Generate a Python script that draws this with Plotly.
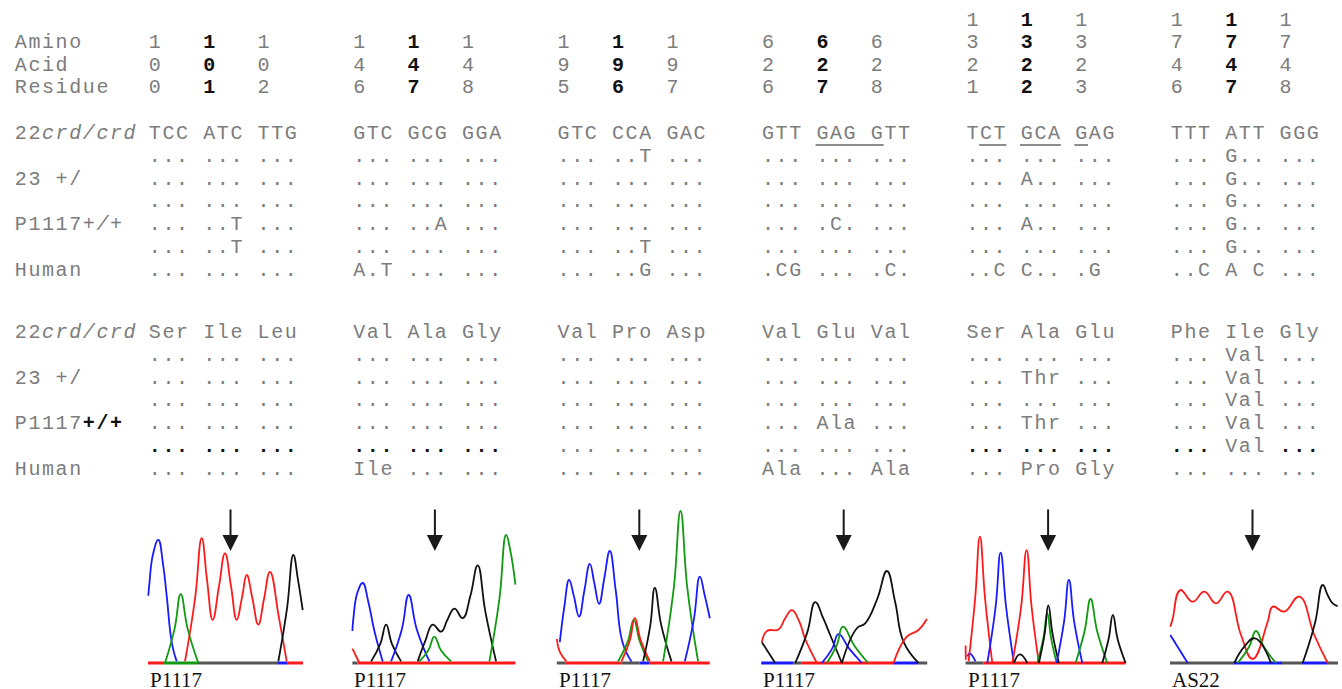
import plotly.graph_objects as go

# ---------------------------------------------------------------- data
RESIDUE_NUMBERS = [
    [100, 101, 102],
    [146, 147, 148],
    [195, 196, 197],
    [626, 627, 628],
    [1321, 1322, 1323],
    [1746, 1747, 1748],
]
HEADER_LABELS = ["Amino", "Acid", "Residue"]

# sample labels: (plain part, styled part)
SAMPLE_LABELS = [("22", "crd/crd"), ("23 +/", ""), ("P1117", "+/+"), ("Human", "")]

NUC_REFERENCE = ["TCC ATC TTG", "GTC GCG GGA", "GTC CCA GAC",
                 "GTT GAG GTT", "TCT GCA GAG", "TTT ATT GGG"]
NUC_ROWS = [
    ["... ... ...", "... ... ...", "... ..T ...", "... ... ...", "... ... ...", "... G.. ..."],
    ["... ... ...", "... ... ...", "... ... ...", "... ... ...", "... A.. ...", "... G.. ..."],
    ["... ... ...", "... ... ...", "... ... ...", "... ... ...", "... ... ...", "... G.. ..."],
    ["... ..T ...", "... ..A ...", "... ... ...", "... .C. ...", "... A.. ...", "... G.. ..."],
    ["... ..T ...", "... ... ...", "... ..T ...", "... ... ...", "... ... ...", "... G.. ..."],
    ["... ... ...", "A.T ... ...", "... ..G ...", ".CG ... .C.", "..C C.. .G ", "..C A C ..."],
]
# underlined stretches in the reference codons: (group, first char, last char + 1)
NUC_UNDERLINES = [(3, 4, 9), (4, 1, 3), (4, 4, 7), (4, 8, 9)]

AA_REFERENCE = ["Ser Ile Leu", "Val Ala Gly", "Val Pro Asp",
                "Val Glu Val", "Ser Ala Glu", "Phe Ile Gly"]
AA_ROWS = [
    ["... ... ...", "... ... ...", "... ... ...", "... ... ...", "... ... ...", "... Val ..."],
    ["... ... ...", "... ... ...", "... ... ...", "... ... ...", "... Thr ...", "... Val ..."],
    ["... ... ...", "... ... ...", "... ... ...", "... ... ...", "... ... ...", "... Val ..."],
    ["... ... ...", "... ... ...", "... ... ...", "... Ala ...", "... Thr ...", "... Val ..."],
    ["... ... ...", "... ... ...", "... ... ...", "... ... ...", "... ... ...", "... Val ..."],
    ["... ... ...", "Ile ... ...", "... ... ...", "Ala ... Ala", "... Pro Gly", "... ... ..."],
]
AA_BOLD_DOT_ROW = 4
AA_BOLD_DOT_GROUPS = [0, 1, 4, 5]

TRACE_LABELS = ["P1117", "P1117", "P1117", "P1117", "P1117", "AS22"]

# chromatogram traces: (channel, scan positions, signal)
PANEL1 = [
    ("blue", [0.3, 1.3, 5, 10.3, 15, 18.7, 24, 28.7], [42, 49, 68, 77, 62, 42, 12, 1]),
    ("green", [17, 26.6, 32.7, 39.6, 50.3], [0, 21.5, 43, 21.5, 0]),
    ("red", [37, 47, 53.7, 59, 64.7, 71, 77, 83, 88.7, 94, 98.7, 104.5, 110.3, 116, 122, 131, 138.7],
     [1, 40, 78, 52, 27, 48, 68.5, 48, 27, 41, 55, 40, 24, 40, 57, 28, 1]),
    ("black", [130.3, 139, 145.3, 150, 154.7], [1, 34, 67.5, 52, 33]),
]
PANEL2 = [
    ("red", [0, 7], [9, 0]),
    ("blue", [0, 1, 5, 10.3, 16, 22, 30.3], [20, 28, 44, 50, 38, 20, 1]),
    ("black", [18.7, 27.9, 33.7, 39.5, 48.7], [1, 12, 24, 12, 1]),
    ("blue", [38.7, 49.4, 56.3, 64.4, 77], [1, 21, 42.5, 21, 1]),
    ("black", [65.3, 73, 80.3, 88.7, 95, 102, 110.3, 118, 125.3, 133, 143.7],
     [1, 14, 24, 19.6, 27, 34, 28, 42, 61, 32, 1]),
    ("green", [67, 76, 82, 88.5, 98.7], [1, 8, 16.5, 8, 1]),
    ("green", [137, 147, 153.7, 158, 163], [1, 40, 80, 70, 49]),
]
PANEL3 = [
    ("red", [0, 3, 9.7], [15, 7, 1]),
    ("blue", [3, 7.5, 12.3, 17, 22.3, 27.5, 33, 37.5, 42.3, 47.5, 53, 59, 65.7, 74.7],
     [13, 35, 52, 42, 29, 45, 62, 50, 37, 53, 70, 45, 13, 1]),
    ("green", [61.3, 71, 77, 83, 91.3], [1, 13.5, 27, 13.5, 1]),
    ("red", [64.7, 73, 78, 84, 93], [1, 14, 28, 14, 1]),
    ("black", [86.3, 93.5, 98, 104.5, 114.7], [1, 23.5, 47, 23.5, 1]),
    ("green", [106.3, 117, 123.7, 130.5, 141.3], [1, 47, 95, 47, 1]),
    ("blue", [128, 137, 143, 148, 153], [1, 27, 54, 42, 28]),
]
PANEL4 = [
    ("red", [0.7, 5.7, 17.3, 24, 30.7, 38, 44, 55.7], [13, 20, 21, 28, 33, 26, 15, 0]),
    ("black", [0.7, 14], [13, 0]),
    ("black", [34, 46, 54, 62, 69, 80.7], [0, 19, 38, 28, 17.5, 0]),
    ("blue", [60.7, 71, 77.3, 88, 100.7], [0, 9, 18, 9, 0]),
    ("green", [65.7, 75.5, 81.7, 93, 107], [0, 11, 22.7, 11, 0]),
    ("black", [80.7, 95.7, 104, 116, 125.7, 134, 142.3, 157.3], [0, 21.7, 24.8, 40, 57.5, 38, 13.3, 0]),
    ("red", [132.3, 145.7, 157.3, 165.7], [0, 16.5, 20.6, 27.5]),
]
PANEL5 = [
    ("red", [0, 0.2], [11, 2]),
    ("blue", [2, 4, 10], [4, 6, 1]),
    ("red", [3, 9.5, 14.3, 19.5, 26.7], [1, 40, 79, 40, 0]),
    ("blue", [21.7, 30, 35, 40.5, 48.3], [0, 35, 69, 35, 0]),
    ("red", [46.7, 55.5, 61, 66, 73.3], [0, 35, 70.6, 35, 0]),
    ("black", [48.3, 54.3, 61.7], [0, 5.4, 0]),
    ("green", [71.7, 77.8, 81.7, 85.5, 91], [0, 15.5, 31, 15.5, 0]),
    ("black", [73.3, 79, 82.7, 87, 93.3], [0, 18, 36, 18, 0]),
    ("blue", [91, 98.5, 103.3, 108.5, 116.7], [0, 26, 52, 26, 0]),
    ("green", [110, 119, 125, 131.5, 141.7], [0, 20, 40, 20, 0]),
    ("black", [136.7, 143, 147.3, 152, 160], [0, 15, 30, 15, 0]),
]
PANEL6 = [
    ("blue", [0.3, 17.7], [17.5, 0]),
    ("red", [0.3, 2.7, 10.3, 22.7, 34.3, 46, 57.7, 71, 82.7, 97.7, 102.7, 114.3, 129.3, 144.3, 157.7],
     [22.7, 27.7, 45.6, 38.3, 44.6, 37.3, 44.6, 17.5, 2.5, 25.8, 35.2, 32.1, 41.5, 17.5, 0]),
    ("green", [67.7, 79, 86, 94, 106], [0, 10, 20, 10, 0]),
    ("black", [64.3, 74.3, 85, 101], [0, 10.2, 15.4, 0]),
    ("black", [132.7, 145, 152.7, 158, 162.7, 167.7], [0, 25, 48.75, 42, 37.3, 35.6]),
]
PANELS = [PANEL1, PANEL2, PANEL3, PANEL4, PANEL5, PANEL6]

# baseline colour runs: (channel, from scan, to scan)
BASELINES = [
    [("red", 0, 15), ("green", 15, 50), ("grey", 50, 130), ("blue", 130, 139), ("red", 139, 155)],
    [("grey", 0, 5), ("red", 5, 163)],
    [("grey", 0, 9), ("red", 9, 65), ("grey", 65, 83), ("blue", 83, 93), ("red", 93, 153)],
    [("blue", 0, 32), ("grey", 32, 40), ("red", 40, 132), ("blue", 132, 157), ("grey", 157, 166)],
    [("grey", 0, 18), ("red", 18, 160)],
    [("grey", 0, 64), ("blue", 64, 112), ("grey", 112, 132), ("blue", 132, 157), ("grey", 157, 168)],
]

# ---------------------------------------------------------------- layout constants
W, H = 1342, 689
CW = 13.6                      # monospace cell width (px)
LABEL_X = 14
GROUP_X0 = [148 + 204.4 * g for g in range(6)]
HEADER_Y = [21, 43, 66, 88]
NUC_Y0, AA_Y0, ROW_DY = 134, 333, 22.8
GREY, BLACK = "#7c7c7c", "#111111"
MONO = "Liberation Mono, Courier New, monospace"
FS = 20
CH_COLORS = {"blue": "#1a1aff", "green": "#109a10", "red": "#ff1a1a",
             "black": "#111111", "grey": "#555555"}

buckets = {}


def put(s, x0, y, color=GREY, weight="normal", style="normal"):
    key = (color, weight, style)
    b = buckets.setdefault(key, ([], [], []))
    for i, ch in enumerate(s):
        if ch != " ":
            b[0].append(x0 + (i + 0.5) * CW)
            b[1].append(y)
            b[2].append(ch)


# header
for r, lab in enumerate(HEADER_LABELS):
    put(lab, LABEL_X, HEADER_Y[r + 1])
for g, nums in enumerate(RESIDUE_NUMBERS):
    for c, n in enumerate(nums):
        digits = str(n)
        for k, d in enumerate(digits):
            row = 4 - len(digits) + k
            x = GROUP_X0[g] + 4 * c * CW
            if c == 1:
                put(d, x, HEADER_Y[row], BLACK, "bold")
            else:
                put(d, x, HEADER_Y[row])


def sample_labels(y0, styled_weight, styled_color, styled_style):
    for k, (plain, styled) in enumerate(SAMPLE_LABELS):
        y = y0 + 2 * k * ROW_DY
        put(plain, LABEL_X, y)
        if styled:
            if k == 0:
                put(styled, LABEL_X + len(plain) * CW, y, GREY, "normal", "italic")
            else:
                put(styled, LABEL_X + len(plain) * CW, y, styled_color, styled_weight, styled_style)


sample_labels(NUC_Y0, "normal", GREY, "italic")
sample_labels(AA_Y0, "bold", BLACK, "normal")

for g in range(6):
    put(NUC_REFERENCE[g], GROUP_X0[g], NUC_Y0)
    put(AA_REFERENCE[g], GROUP_X0[g], AA_Y0)
    for r in range(6):
        put(NUC_ROWS[r][g], GROUP_X0[g], NUC_Y0 + (r + 1) * ROW_DY)
        s = AA_ROWS[r][g]
        y = AA_Y0 + (r + 1) * ROW_DY
        if r == AA_BOLD_DOT_ROW and g in AA_BOLD_DOT_GROUPS:
            dots = "".join(ch if ch == "." else " " for ch in s)
            rest = "".join(ch if ch != "." else " " for ch in s)
            put(dots, GROUP_X0[g], y, BLACK, "bold")
            put(rest, GROUP_X0[g], y)
        else:
            put(s, GROUP_X0[g], y)

fig = go.Figure()
for (color, weight, style), (xs, ys, ts) in buckets.items():
    fig.add_trace(go.Scatter(
        x=xs, y=ys, text=ts, mode="text", textposition="middle center",
        textfont=dict(family=MONO, size=FS, color=color, weight=weight, style=style),
        hoverinfo="skip", showlegend=False, cliponaxis=False, xaxis="x", yaxis="y"))

shapes = []
for g, a, b in NUC_UNDERLINES:
    shapes.append(dict(type="line", xref="x", yref="y",
                       x0=GROUP_X0[g] + a * CW, x1=GROUP_X0[g] + b * CW,
                       y0=NUC_Y0 + 11, y1=NUC_Y0 + 11,
                       line=dict(color="#666666", width=1.5)))

# chromatogram panels
PY_BASE, PX_PER_UNIT = 663, 1.6
XR, YR = (-2, 172), (-4, 100)
layout_axes = {}
annotations = []
for p, panel in enumerate(PANELS):
    ax = p + 2
    left = GROUP_X0[p]
    x_dom = [(left + XR[0]) / W, (left + XR[1]) / W]
    bottom_px = PY_BASE - YR[0] * PX_PER_UNIT
    top_px = PY_BASE - YR[1] * PX_PER_UNIT
    y_dom = [1 - bottom_px / H, 1 - top_px / H]
    layout_axes[f"xaxis{ax}"] = dict(domain=x_dom, range=list(XR), visible=False, fixedrange=True,
                                     anchor=f"y{ax}")
    layout_axes[f"yaxis{ax}"] = dict(domain=y_dom, range=list(YR), visible=False, fixedrange=True,
                                     anchor=f"x{ax}")
    for ch, a, b in BASELINES[p]:
        fig.add_trace(go.Scatter(x=[a, b], y=[0, 0], mode="lines",
                                 line=dict(color=CH_COLORS[ch], width=3.2),
                                 hoverinfo="skip", showlegend=False,
                                 xaxis=f"x{ax}", yaxis=f"y{ax}"))
    for ch, xs, ys in panel:
        fig.add_trace(go.Scatter(x=xs, y=ys, mode="lines",
                                 line=dict(color=CH_COLORS[ch], width=1.8, shape="spline",
                                           smoothing=1.3),
                                 hoverinfo="skip", showlegend=False,
                                 xaxis=f"x{ax}", yaxis=f"y{ax}"))
    # arrow
    arrow_x = left + 82.5
    annotations.append(dict(x=arrow_x, y=551, ax=arrow_x, ay=508, xref="x", yref="y",
                            axref="x", ayref="y", showarrow=True, arrowhead=2,
                            arrowsize=1.6, arrowwidth=2, arrowcolor="#1a1a1a", text=""))
    annotations.append(dict(x=left, y=680, xref="x", yref="y", text=TRACE_LABELS[p],
                            showarrow=False, xanchor="left", yanchor="middle",
                            font=dict(family="Liberation Serif, Times New Roman, serif",
                                      size=21, color="#111111")))

fig.update_layout(
    width=W, height=H, margin=dict(l=0, r=0, t=0, b=0),
    paper_bgcolor="white", plot_bgcolor="white",
    xaxis=dict(domain=[0, 1], range=[0, W], visible=False, fixedrange=True),
    yaxis=dict(domain=[0, 1], range=[H, 0], visible=False, fixedrange=True),
    shapes=shapes, annotations=annotations, showlegend=False,
    **layout_axes,
)

fig.write_html("out.html", config={"displayModeBar": False},
               post_script="document.body.style.margin='0';document.body.style.overflow='hidden';")
